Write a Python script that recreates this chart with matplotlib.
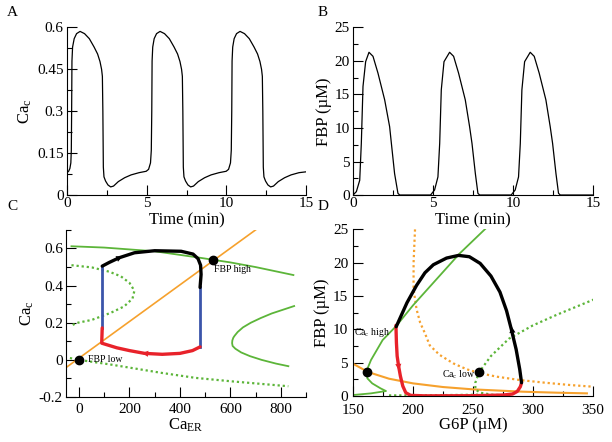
import matplotlib
matplotlib.use("Agg")
import matplotlib.pyplot as plt
from matplotlib.ticker import MultipleLocator, FixedLocator, FixedFormatter

plt.rcParams['font.family'] = ['Liberation Serif', 'DejaVu Serif']
plt.rcParams['mathtext.fontset'] = 'custom'
plt.rcParams['mathtext.rm'] = 'Liberation Serif'
plt.rcParams['mathtext.it'] = 'Liberation Serif:italic'

# ---------------- Data ----------------
# Panel A: cytosolic Ca vs time
tA = [0.00, 0.10, 0.18, 0.24, 0.27, 0.29, 0.31, 0.35, 0.45, 0.60, 0.82, 1.10, 1.40, 1.70, 1.92, 2.07,
      2.17, 2.22, 2.25, 2.28, 2.32, 2.42, 2.57, 2.74, 2.92, 3.22, 3.62, 4.02, 4.52, 4.97, 5.12, 5.24,
      5.29, 5.32, 5.34, 5.38, 5.47, 5.62, 5.84, 6.12, 6.42, 6.72, 6.94, 7.09, 7.19, 7.24, 7.27, 7.30,
      7.34, 7.44, 7.59, 7.76, 7.94, 8.24, 8.64, 9.04, 9.54, 9.99, 10.14, 10.26, 10.31, 10.34, 10.36,
      10.40, 10.49, 10.64, 10.86, 11.14, 11.44, 11.74, 11.96, 12.11, 12.21, 12.26, 12.29, 12.32, 12.36,
      12.46, 12.61, 12.78, 12.96, 13.26, 13.66, 14.06, 14.56, 15.00]
caA = [0.080, 0.085, 0.095, 0.115, 0.160, 0.300, 0.480, 0.530, 0.560, 0.578, 0.586, 0.578, 0.560, 0.530,
       0.505, 0.478, 0.450, 0.425, 0.300, 0.100, 0.065, 0.050, 0.036, 0.029, 0.032, 0.048, 0.062, 0.072,
       0.080, 0.085, 0.092, 0.115, 0.160, 0.300, 0.480, 0.530, 0.560, 0.578, 0.586, 0.578, 0.560, 0.530,
       0.505, 0.478, 0.450, 0.425, 0.300, 0.100, 0.065, 0.050, 0.036, 0.029, 0.032, 0.048, 0.062, 0.072,
       0.080, 0.085, 0.092, 0.115, 0.160, 0.300, 0.480, 0.530, 0.560, 0.578, 0.586, 0.578, 0.560, 0.530,
       0.505, 0.478, 0.450, 0.425, 0.300, 0.100, 0.065, 0.050, 0.036, 0.029, 0.032, 0.048, 0.062, 0.072,
       0.080, 0.083]

# Panel B: FBP vs time
tB = [0.00, 0.21, 0.42, 0.52, 0.625, 0.79, 1.00, 1.25, 1.56, 1.98, 2.29, 2.40, 2.60, 2.81, 2.92,
      4.85, 5.10, 5.31, 5.42, 5.52, 5.69, 6.04, 6.29, 6.60, 7.02, 7.29, 7.44, 7.65, 7.81, 7.92,
      9.89, 10.14, 10.35, 10.46, 10.56, 10.73, 11.08, 11.33, 11.64, 12.06, 12.33, 12.48, 12.69, 12.85,
      12.96, 15.00]
fbpB = [0.0, 0.5, 2.2, 7.7, 16.2, 19.9, 21.3, 20.7, 18.2, 14.2, 10.2, 7.7, 3.2, 0.25, 0.0,
        0.0, 0.75, 2.7, 7.7, 15.7, 19.9, 21.3, 20.7, 18.2, 14.2, 10.2, 7.7, 3.2, 0.25, 0.0,
        0.0, 0.75, 2.7, 7.7, 15.7, 19.9, 21.3, 20.7, 18.2, 14.2, 10.2, 7.7, 3.2, 0.25, 0.0, 0.0]

# Panel C: Ca_c vs Ca_ER phase plane
orangeC_x = [-50, 700]
orangeC_y = [-0.04, 0.70]
greenC_up_x = [-30, 100, 300, 480, 600, 700, 850]
greenC_up_y = [0.612, 0.605, 0.585, 0.550, 0.525, 0.500, 0.457]
greenC_right_x = [853, 764, 720, 681, 650, 629, 617, 612, 608, 607, 609, 620, 643, 678, 724, 781, 830]
greenC_right_y = [0.290, 0.250, 0.225, 0.200, 0.175, 0.150, 0.130, 0.120, 0.105, 0.090, 0.075, 0.060,
                  0.040, 0.020, 0.000, -0.020, -0.034]
greenC_dot_left_x = [-30, 51, 120, 166, 200, 213, 219, 212, 179, 125, 50, -9, -30]
greenC_dot_left_y = [0.510, 0.498, 0.475, 0.450, 0.415, 0.387, 0.369, 0.330, 0.288, 0.253, 0.215, 0.199, 0.185]
greenC_dot_low_x = [-36, 0, 125, 327, 462, 600, 830]
greenC_dot_low_y = [0.010, 0.000, -0.025, -0.070, -0.097, -0.115, -0.142]
blackC_x = [480, 484, 482, 472, 452, 405, 300, 220, 159, 120, 92]
blackC_y = [0.390, 0.460, 0.510, 0.545, 0.570, 0.585, 0.588, 0.577, 0.550, 0.525, 0.505]
blueC_left_x = [92, 92]
blueC_left_y = [0.505, 0.172]
blueC_right_x = [480, 480]
blueC_right_y = [0.070, 0.390]
redC_x = [92, 90, 150, 200, 260, 330, 400, 450, 480]
redC_y = [0.172, 0.090, 0.065, 0.050, 0.035, 0.030, 0.035, 0.050, 0.070]
fixC_x = [0, 533]
fixC_y = [0.0, 0.536]

# Panel D: FBP vs G6P phase plane
greenD_x = [150, 165, 177.5, 173, 166, 162, 161, 165, 174.7, 186, 200, 220, 239, 261]
greenD_y = [0.15, 0.40, 0.75, 1.15, 1.9, 2.65, 3.65, 5.4, 8.4, 10.5, 13.6, 17.6, 21.4, 25.2]
greenD_dot_x = [351, 320, 300, 280, 265, 255, 252, 252, 256, 266, 280]
greenD_dot_y = [14.5, 12.2, 10.6, 8.6, 6.0, 3.55, 2.0, 1.0, 0.5, 0.2, 0.1]
greenD_dot_low_x = [180, 200, 230, 255]
greenD_dot_low_y = [0.1, 0.1, 0.15, 0.2]
orangeD_x = [150, 162.5, 180, 200, 225, 250, 291.7, 320, 345]
orangeD_y = [4.85, 3.6, 2.6, 1.9, 1.35, 1.0, 0.65, 0.5, 0.4]
orangeD_dot_x = [201.7, 200.5, 200.5, 203, 206, 210, 214, 222, 233.6, 245, 256.4, 270, 289, 310, 331, 350]
orangeD_dot_y = [25, 20, 16, 13, 11, 9.4, 7.6, 6.2, 4.9, 4.0, 3.4, 2.9, 2.4, 2.0, 1.65, 1.4]
blackD_x = [186, 189, 195, 203, 210, 217, 228, 238, 247, 256, 265, 272.5, 278, 282, 286, 289, 290.5]
blackD_y = [10.4, 11.6, 14.0, 16.6, 18.5, 19.7, 20.7, 21.1, 20.9, 19.9, 18.0, 15.6, 12.8, 10.0, 7.0, 4.0, 2.0]
redD_x = [185.8, 186.2, 186.8, 188, 189.5, 191.5, 194, 198, 210, 250, 275, 283, 287, 289.5, 290.5]
redD_y = [10.6, 8.0, 6.0, 4.5, 3.0, 1.5, 0.5, 0.1, 0.03, 0.05, 0.15, 0.3, 0.7, 1.4, 2.0]
fixD_x = [162, 255]
fixD_y = [3.6, 3.55]

GREEN = '#5cb539'
ORANGE = '#f6a12d'
RED = '#e8222a'
BLUE = '#3b55aa'
DOT = (0, (1, 1.3))

fig = plt.figure(figsize=(6.12, 4.42), dpi=100)

def style(ax, xpad, ypad=2.5):
    for s in ['top', 'right']:
        ax.spines[s].set_visible(False)
    ax.tick_params(which='major', direction='in', length=7, width=0.8, labelsize=11)
    ax.tick_params(which='minor', direction='in', length=3.5, width=0.8)
    ax.tick_params(axis='x', which='major', pad=xpad)
    ax.tick_params(axis='y', which='major', pad=ypad)

axA = fig.add_axes([0.1095, 0.5588, 0.3905, 0.379])
axB = fig.add_axes([0.5768, 0.5588, 0.392, 0.379])
axC = fig.add_axes([0.1085, 0.1018, 0.3915, 0.378])
axD = fig.add_axes([0.5768, 0.104, 0.392, 0.377])
style(axA, 1.5)
style(axB, 1.5)
style(axC, 4.5)
style(axD, 5.5, 3.5)

# A
axA.plot(tA, caA, color='black', lw=0.9)
axA.set_xlim(0, 15)
axA.set_ylim(0, 0.6)
axA.xaxis.set_major_locator(MultipleLocator(5))
axA.xaxis.set_minor_locator(MultipleLocator(2.5))
axA.yaxis.set_major_locator(FixedLocator([0, 0.15, 0.3, 0.45, 0.6]))
axA.yaxis.set_major_formatter(FixedFormatter(['0', '0.15', '0.3', '0.45', '0.6']))
axA.yaxis.set_minor_locator(MultipleLocator(0.075))
axA.set_xlabel('Time (min)', fontsize=12, labelpad=2)
axA.set_ylabel('Ca$_\\mathrm{c}$', fontsize=12, labelpad=2)

# B
axB.plot(tB, fbpB, color='black', lw=0.9)
axB.set_xlim(0, 15)
axB.set_ylim(0, 25)
axB.xaxis.set_major_locator(MultipleLocator(5))
axB.xaxis.set_minor_locator(MultipleLocator(2.5))
axB.yaxis.set_major_locator(MultipleLocator(5))
axB.yaxis.set_minor_locator(MultipleLocator(2.5))
axB.set_xlabel('Time (min)', fontsize=12, labelpad=2)
axB.set_ylabel('FBP (\u00b5M)', fontsize=12, labelpad=2)

def arrow(ax, p1, p2, color, ms=11):
    ax.annotate('', xy=p2, xytext=p1,
                arrowprops=dict(arrowstyle='-|>', color=color, lw=0, mutation_scale=ms,
                                shrinkA=0, shrinkB=0))

# C
axC.plot(orangeC_x, orangeC_y, color=ORANGE, lw=1.2)
axC.plot(greenC_up_x, greenC_up_y, color=GREEN, lw=1.3)
axC.plot(greenC_right_x, greenC_right_y, color=GREEN, lw=1.3)
axC.plot(greenC_dot_left_x, greenC_dot_left_y, color=GREEN, lw=1.6, ls=DOT)
axC.plot(greenC_dot_low_x, greenC_dot_low_y, color=GREEN, lw=1.6, ls=DOT)
axC.plot(blueC_left_x, blueC_left_y, color=BLUE, lw=2.0)
axC.plot(blueC_right_x, blueC_right_y, color=BLUE, lw=2.0)
axC.plot(redC_x, redC_y, color=RED, lw=2.4, solid_capstyle='round')
axC.plot(blackC_x, blackC_y, color='black', lw=2.4, solid_capstyle='round')
arrow(axC, (140, 0.538), (172, 0.557), 'black')
arrow(axC, (290, 0.031), (250, 0.036), RED)
axC.plot(fixC_x, fixC_y, 'o', color='black', ms=6)
axC.text(36, 0.0, 'FBP low', fontsize=7, va='center', ha='left')
axC.text(536, 0.488, 'FBP high', fontsize=7, va='center', ha='left')
axC.set_xlim(-50, 900)
axC.set_ylim(-0.2, 0.7)
axC.xaxis.set_major_locator(MultipleLocator(200))
axC.xaxis.set_minor_locator(MultipleLocator(100))
axC.yaxis.set_major_locator(FixedLocator([-0.2, 0, 0.2, 0.4, 0.6]))
axC.yaxis.set_major_formatter(FixedFormatter(['-0.2', '0', '0.2', '0.4', '0.6']))
axC.yaxis.set_minor_locator(MultipleLocator(0.1))
axC.set_xlabel('Ca$_\\mathrm{ER}$', fontsize=12, labelpad=0)
axC.set_ylabel('Ca$_\\mathrm{c}$', fontsize=12, labelpad=2)

# D
axD.plot(orangeD_x, orangeD_y, color=ORANGE, lw=1.5)
axD.plot(orangeD_dot_x, orangeD_dot_y, color=ORANGE, lw=1.6, ls=DOT)
axD.plot(greenD_x, greenD_y, color=GREEN, lw=1.3)
axD.plot(greenD_dot_x, greenD_dot_y, color=GREEN, lw=1.6, ls=DOT)
axD.plot(greenD_dot_low_x, greenD_dot_low_y, color=GREEN, lw=1.6, ls=DOT)
axD.plot(redD_x, redD_y, color=RED, lw=2.4, solid_capstyle='round')
axD.plot(blackD_x, blackD_y, color='black', lw=2.4, solid_capstyle='round')
arrow(axD, (187.4, 5.6), (188.2, 3.9), RED)
arrow(axD, (283.5, 8.6), (282.3, 10.4), 'black')
axD.plot(fixD_x, fixD_y, 'o', color='black', ms=6)
axD.text(150.5, 9.6, 'Ca$_\\mathrm{c}$ high', fontsize=7, va='center', ha='left')
axD.text(252, 3.2, 'Ca$_\\mathrm{c}$ low', fontsize=7, va='center', ha='right')
axD.set_xlim(150, 350)
axD.set_ylim(0, 25)
axD.xaxis.set_major_locator(MultipleLocator(50))
axD.xaxis.set_minor_locator(MultipleLocator(25))
axD.yaxis.set_major_locator(MultipleLocator(5))
axD.yaxis.set_minor_locator(MultipleLocator(2.5))
axD.set_xlabel('G6P (\u00b5M)', fontsize=12, labelpad=0)
axD.set_ylabel('FBP (\u00b5M)', fontsize=12, labelpad=2)

fig.text(12 / 612, 1 - 13 / 442, 'A', fontsize=11, ha='center', va='center')
fig.text(323 / 612, 1 - 13 / 442, 'B', fontsize=11, ha='center', va='center')
fig.text(12 / 612, 1 - 207 / 442, 'C', fontsize=11, ha='center', va='center')
fig.text(323 / 612, 1 - 207 / 442, 'D', fontsize=11, ha='center', va='center')

fig.savefig('out.png', dpi=100)
